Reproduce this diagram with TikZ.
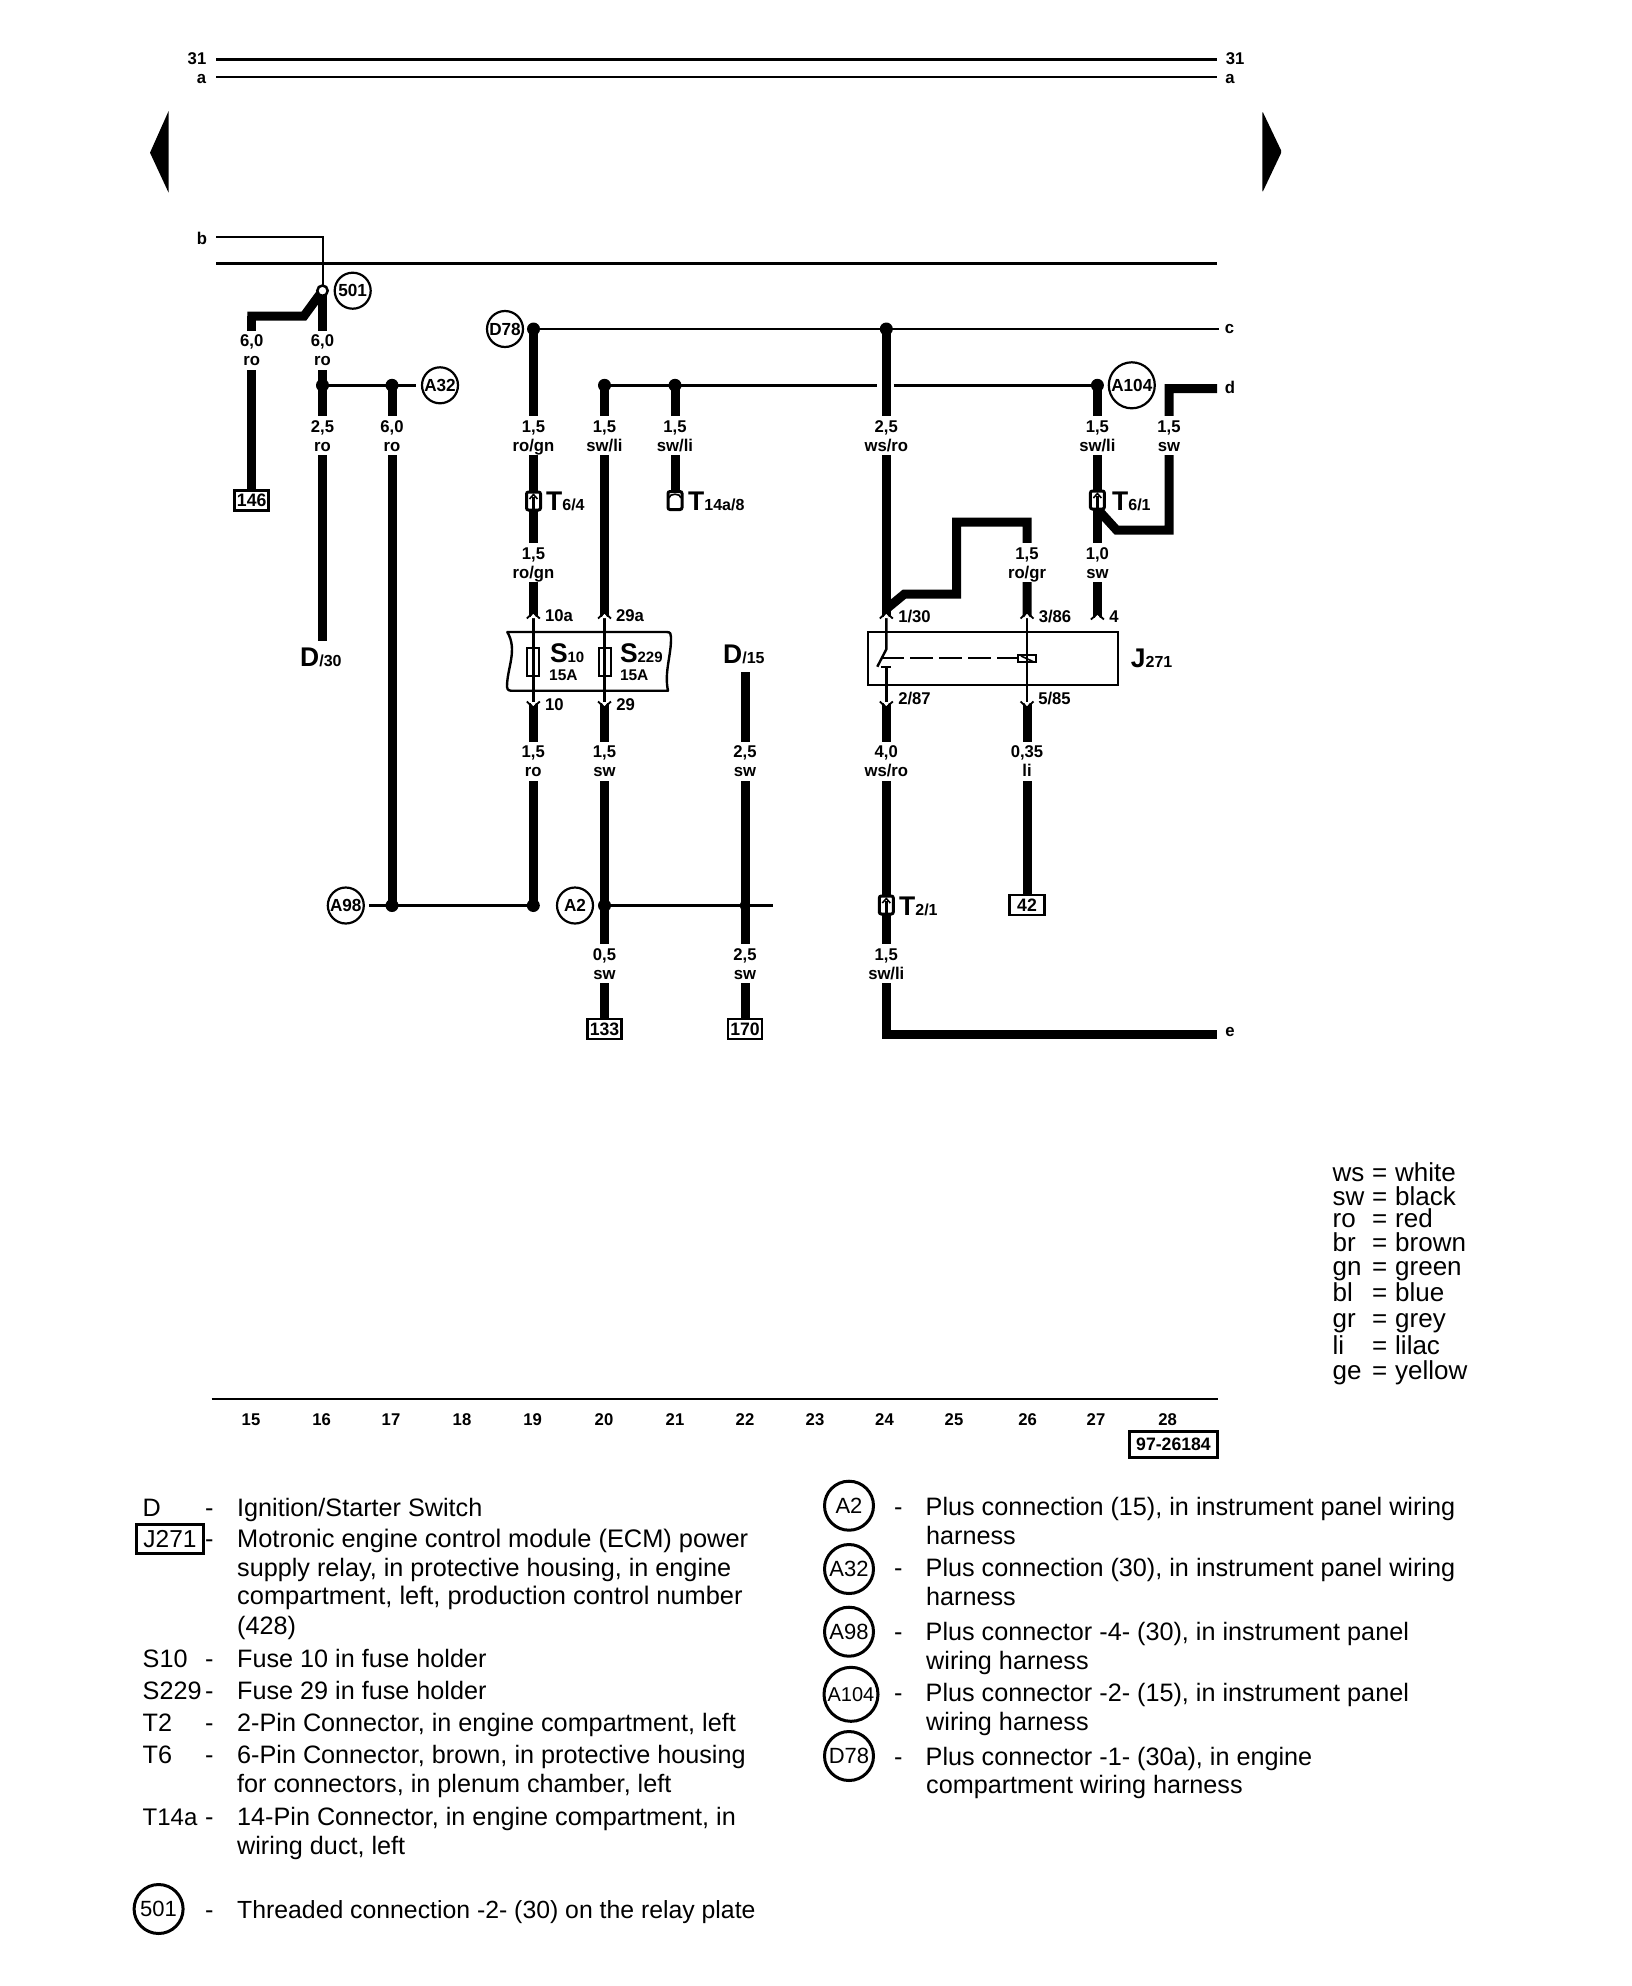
\documentclass[tikz,border=0pt]{standalone}
\usepackage{fontspec}
\setmainfont{Liberation Sans}
\newfontfamily\labf[FakeStretch=0.98]{Liberation Sans}
\newcommand{\fsz}[1]{\fontsize{#1}{#1}\selectfont}
\tikzset{
  wire/.style={line width=9pt,line cap=butt,line join=miter,miter limit=10},
  thin wire/.style={line width=2.7pt,line cap=butt},
  fine/.style={line width=2pt,line cap=butt},
  cover/.style={fill=white,draw=none,inner sep=0pt,minimum width=14pt,minimum height=39.3pt},
  lab/.style={inner sep=0pt,font=\labf\bfseries\fsz{17},anchor=base},
  pinlab/.style={inner sep=0pt,font=\labf\bfseries\fsz{17}},
  dot/.style={circle,fill=black,draw=none,minimum size=13pt,inner sep=0pt},
  circ/.style={circle,draw,line width=2.2pt,fill=white,minimum size=36pt,inner sep=0pt,font=\labf\bfseries\fsz{17.5}},
  lcirc/.style={circle,draw,line width=3pt,fill=white,minimum size=49pt,inner sep=0pt,font=\fsz{22}},
  term/.style={draw,line width=2.5pt,fill=white,inner sep=0pt,minimum width=34pt,minimum height=20pt,font=\labf\bfseries\fsz{18}},
  connbox/.style={draw,line width=3pt,fill=white,rounded corners=2pt,minimum width=14pt,minimum height=18pt,inner sep=0pt},
  sym/.style={inner sep=0pt,anchor=base west,font=\labf\bfseries\fsz{27}},
  leg/.style={inner sep=0pt,anchor=base west,font=\fsz{25.2}},
  col/.style={inner sep=0pt,anchor=base west,font=\fsz{26}},
  tick/.style={inner sep=0pt,font=\labf\bfseries\fsz{17}},
}
\newcommand{\wlab}[5]{%
  \node[cover] (#1) at (#2,#3) {};
  \node[lab] (#1a) at (#2,#3-3.4) {#4};
  \node[lab] (#1b) at (#2,#3+15.6) {#5};}
\newcommand{\pinU}[2]{%
  \fill[white] (#1-3.2,#2+1) -- (#1,#2-4) -- (#1+3.2,#2+1) -- cycle;
  \draw[line width=1.8pt,line join=miter] (#1-6.5,#2+1.5) -- (#1,#2-4.5) -- (#1+6.5,#2+1.5);}
\newcommand{\pinD}[2]{%
  \fill[white] (#1-3.2,#2-1) -- (#1,#2+4) -- (#1+3.2,#2-1) -- cycle;
  \draw[line width=1.8pt,line join=miter] (#1-6.5,#2-1.5) -- (#1,#2+4.5) -- (#1+6.5,#2-1.5);}
\newcommand{\conn}[3]{%
  \node[connbox] (#1) at (#2,#3) {};
  \draw[line width=2.4pt] (#2,#3+8) -- (#2,#3-4);
  \draw[line width=1.6pt] (#2-4,#3-2) -- (#2,#3-6.5) -- (#2+4,#3-2);}
\newcommand{\lgd}[4]{\node[leg] (#1) at (#2,#3) {#4};}
\begin{document}
\begin{tikzpicture}[x=1pt,y=-1pt]
\useasboundingbox (0,0) rectangle (1632,1986);
\fill[white] (0,0) rectangle (1632,1986);

% ---- buses
\coordinate (b31l) at (216,59.3); \coordinate (b31r) at (1217,59.3);
\coordinate (bal) at (216,77); \coordinate (bar) at (1217,77);
\coordinate (bbl) at (216,263.3); \coordinate (bbr) at (1217,263.3);
\draw[line width=3pt] (b31l) -- (b31r);
\draw[fine] (bal) -- (bar);
\draw[line width=3pt] (bbl) -- (bbr);
\node[tick] (t31l) at (197,59) {31};
\node[tick] (tal) at (201.6,79) {a};
\node[tick] (t31r) at (1235,59) {31};
\node[tick] (tar) at (1230,79) {a};
\node[tick] (tb) at (202,238) {b};
\node[tick] (tc) at (1229.5,329) {c};
\node[tick] (td) at (1230,387) {d};
\node[tick] (te) at (1230,1032) {e};
% page arrows
\fill (168.6,111) -- (150,152.7) -- (168.6,192.7) -- cycle;
\fill[rounded corners=1.5pt] (1262.3,111) -- (1281.7,151.7) -- (1262.3,192.7) -- cycle;

% ---- named points
\coordinate (n501) at (322.5,290.7);
\node[circ] (c501) at (352.7,290.7) {501};
\coordinate (bbend) at (322.5,237.3);
\coordinate (bstart) at (216,237.3);
\coordinate (j322) at (322.5,385.3);
\coordinate (j392) at (392,385.3);
\node[circ] (A32) at (440,385.3) {A32};
\coordinate (j533t) at (533.5,329);
\node[circ] (D78) at (505,329) {D78};
\coordinate (j886t) at (886.3,329);
\coordinate (cend) at (1219,329);
\coordinate (j604t) at (604.5,385.3);
\coordinate (j675t) at (675,385.3);
\coordinate (j1097) at (1097.4,385.3);
\node[circ,minimum size=46pt] (A104) at (1131.8,385.3) {A104};
\coordinate (j392b) at (392,905.5);
\coordinate (j533b) at (533.3,905.5);
\node[circ] (A98) at (345.8,905.5) {A98};
\node[circ] (A2) at (575,905.5) {A2};
\coordinate (j604b) at (604.5,905.5);
\coordinate (j745b) at (745,905.5);
\coordinate (a2end) at (772.5,905.5);
\coordinate (gapl) at (876.6,385.3);
\coordinate (gapr) at (893.8,385.3);
\node[term] (b146) at (251.7,500.3) {146};
\node[term] (b133) at (604.5,1029) {133};
\node[term] (b170) at (745,1029) {170};
\node[term,minimum width=35pt] (b42) at (1027,905) {42};
\coordinate (d30e) at (322.5,640.7);
\coordinate (d15e) at (745,672);

% ---- thin connectors
\draw[fine,line join=miter] (bstart) -- (bbend) -- (n501);
\draw[thin wire,shorten >=5pt] (j322) -- (A32);
\draw[thin wire] (j533t) -- (cend);
\draw[thin wire] (j604t) -- (gapl);
\draw[thin wire] (gapr) -- (j1097);
\draw[thin wire,shorten <=4pt] (A98) -- (j533b);
\draw[thin wire] (j604b) -- (a2end);

% ---- fuse holder and relay
\draw[line width=2.4pt,line join=round] (507.3,632) -- (666.7,632) .. controls (670.5,632) and (671,634) .. (671,637)
  .. controls (671.5,655) and (664,672) .. (668,690.7) -- (511,690.7)
  .. controls (507.5,690.7) and (507,688) .. (507,686.7)
  .. controls (507,668) and (518,650) .. (507.3,632) -- cycle;
\node[draw,line width=2pt,minimum width=12pt,minimum height=28pt,inner sep=0pt] (fS10) at (533.3,661.8) {};
\node[draw,line width=2pt,minimum width=12pt,minimum height=28pt,inner sep=0pt] (fS229) at (604.5,661.8) {};
\node[draw,line width=2pt,minimum width=250.6pt,minimum height=53.3pt,inner sep=0pt] (J271box) at (993.1,658.3) {};
\draw[line width=2.4pt] (533.3,613) -- (533.3,707);
\draw[line width=2.4pt] (604.5,613) -- (604.5,707);
\draw[line width=2.4pt] (886.3,613) -- (886.3,649.3) -- (877.3,666.7);
\draw[line width=2pt] (881,666.7) -- (891,666.7);
\draw[line width=2.4pt] (886.3,666.7) -- (886.3,703);
\draw[line width=2.4pt] (1027,613) -- (1027,703);
\draw[line width=1.8pt,dash pattern=on 23pt off 6pt] (881,658) -- (1018,658);
\node[draw,line width=2pt,minimum width=18pt,minimum height=7.5pt,inner sep=0pt] (coil) at (1027,658.7) {};
\draw[line width=1.6pt] (1021,656) -- (1033,661.5);
\draw[line width=2.4pt] (1027,640) -- (1027,680);

% ---- heavy wires
\draw[wire] (n501) -- (304,316) -- (247.3,316);
\draw[wire] (251.7,316) -- (b146);
\draw[wire] (n501) -- (d30e);
\draw[wire] (j392) -- (j392b);
\draw[wire] (j533t) -- (533.5,617);
\draw[wire] (533.3,703) -- (j533b);
\draw[wire] (j604t) -- (604.5,617);
\draw[wire] (604.5,703) -- (b133);
\draw[wire] (j675t) -- (675,495);
\draw[wire] (j886t) -- (886.3,617);
\draw[wire] (886.3,609) -- (904.5,594) -- (956.6,594) -- (956.6,522) -- (1027,522) -- (1027,617);
\draw[wire] (886.3,703) -- (886.3,1034) -- (1216.7,1034);
\draw[wire] (1027,703) -- (b42);
\draw[wire] (d15e) -- (b170);
\draw[wire] (j1097) -- (1097.4,618);
\draw[wire] (1097.4,509) -- (1116.5,530) -- (1169,530) -- (1169,388.7) -- (1217,388.7);

% ---- junction dots over wires
\foreach \p in {j322,j392,j533t,j886t,j604t,j675t,j1097,j392b,j533b,j604b}
  \fill (\p) circle (6.5);
\fill (j745b) circle (5.5);
\draw[line width=2.5pt,fill=white] (n501) circle (5.2);

% ---- pin marks
\pinU{533.3}{617} \pinU{604.5}{617} \pinU{886.3}{617} \pinU{1027}{617} \pinU{1097.4}{618}
\pinD{533.3}{703} \pinD{604.5}{703} \pinD{886.3}{703} \pinD{1027}{703}

% ---- wire labels
\wlab{l1}{251.7}{350.3}{6,0}{ro}
\wlab{l2}{322.5}{350.3}{6,0}{ro}
\wlab{l3}{322.5}{435.6}{2,5}{ro}
\wlab{l4}{392}{435.6}{6,0}{ro}
\wlab{l5}{533.5}{435.6}{1,5}{ro/gn}
\wlab{l6}{604.5}{435.6}{1,5}{sw/li}
\wlab{l7}{675}{435.6}{1,5}{sw/li}
\wlab{l8}{886.3}{435.6}{2,5}{ws/ro}
\wlab{l9}{1097.4}{435.6}{1,5}{sw/li}
\wlab{l10}{1169}{435.6}{1,5}{sw}
\wlab{l11}{533.5}{562.6}{1,5}{ro/gn}
\wlab{l12}{1027}{562.6}{1,5}{ro/gr}
\wlab{l13}{1097.4}{562.6}{1,0}{sw}
\wlab{l14}{533.3}{761.3}{1,5}{ro}
\wlab{l15}{604.5}{761.3}{1,5}{sw}
\wlab{l16}{745}{761.3}{2,5}{sw}
\wlab{l17}{886.3}{761.3}{4,0}{ws/ro}
\wlab{l18}{1027}{761.3}{0,35}{li}
\wlab{l19}{604.5}{963.7}{0,5}{sw}
\wlab{l20}{745}{963.7}{2,5}{sw}
\wlab{l21}{886.3}{963.7}{1,5}{sw/li}

% ---- connectors
\conn{cT64}{533.5}{501}
\conn{cT61}{1097.4}{500}
\conn{cT21}{886.3}{905}
\node[connbox] (cT14) at (675,500.5) {};
\draw[line width=1.6pt] (669,498) .. controls (669,493) and (681,493) .. (681,498);
\node[sym] (tT64) at (546,510.7) {T\fsz{16}\normalfont\bfseries 6/4};
\node[sym] (tT14) at (688,510.7) {T\fsz{16}\normalfont\bfseries 14a/8};
\node[sym] (tT61) at (1112,510) {T\fsz{16}\normalfont\bfseries 6/1};
\node[sym] (tT21) at (899,915) {T\fsz{16}\normalfont\bfseries 2/1};
\node[sym] (tD30) at (300,666) {D\fsz{16}\normalfont\bfseries /30};
\node[sym] (tD15) at (723,663.3) {D\fsz{16}\normalfont\bfseries /15};
\node[sym] (tS10) at (549.8,662.3) {S\fsz{15}\normalfont\bfseries 10};
\node[sym] (tS229) at (619.8,662.3) {S\fsz{15}\normalfont\bfseries 229};
\node[sym,font=\bfseries\fsz{15.5}] (tA1) at (549,680.7) {15A};
\node[sym,font=\bfseries\fsz{15.5}] (tA2) at (619.8,680.7) {15A};
\node[sym] (tJ) at (1130.7,667.3) {J\fsz{16}\normalfont\bfseries 271};

% ---- pin numbers
\node[pinlab] (p10a) at (559,616) {10a};
\node[pinlab] (p29a) at (630,616) {29a};
\node[pinlab] (p10) at (554.4,704.7) {10};
\node[pinlab] (p29) at (625.6,704.7) {29};
\node[pinlab] (p130) at (914.5,617) {1/30};
\node[pinlab] (p386) at (1055,617) {3/86};
\node[pinlab] (p4) at (1114,617) {4};
\node[pinlab] (p287) at (914.5,698.3) {2/87};
\node[pinlab] (p585) at (1054.5,698.3) {5/85};

% ---- track ruler
\coordinate (rl) at (211.7,1399); \coordinate (rr) at (1217.6,1399);
\draw[line width=2.5pt] (rl) -- (rr);
\foreach \n/\x in {15/251,16/321.7,17/391,18/462,19/532.7,20/604,21/675,22/745,23/815,24/884.5,25/954,26/1027.7,27/1096,28/1167.7}
  \node[tick] (tk\n) at (\x,1419.5) {\n};
\node[draw,line width=3pt,inner sep=0pt,minimum width=88pt,minimum height=26pt,font=\labf\bfseries\fsz{18}] (docno) at (1173.5,1444.5) {97-26184};

% ---- colour key
\foreach \k/\y/\a in {ws/1181.5/white,sw/1205/black,ro/1227.7/red,br/1251.7/brown,gn/1275.5/green,bl/1301.5/blue,gr/1327.5/grey,li/1354.5/lilac,ge/1379/yellow}{
  \node[col] (ck\k) at (1332.5,\y) {\k};
  \node[col] (ce\k) at (1372,\y) {=};
  \node[col] (cv\k) at (1395,\y) {\a};
}

% ---- left legend
\lgd{k1}{142.5}{1516}{D}
\lgd{k1d}{205}{1516}{-}
\lgd{k1t}{237}{1516}{Ignition/Starter Switch}
\node[draw,line width=2.5pt,inner sep=0pt,minimum width=67pt,minimum height=29pt,font=\fsz{24.5}] (k2) at (170,1539) {J271};
\lgd{k2d}{205}{1547}{-}
\node[leg,font=\fsz{25.4}] (k2t) at (237,1547) {Motronic engine control module (ECM) power};
\lgd{k2u}{237}{1576}{supply relay, in protective housing, in engine}
\node[leg,font=\fsz{25.4}] (k2v) at (237,1604) {compartment, left, production control number};
\lgd{k2w}{237}{1634}{(428)}
\lgd{k3}{142.5}{1667}{S10}
\lgd{k3d}{205}{1667}{-}
\lgd{k3t}{237}{1667}{Fuse 10 in fuse holder}
\lgd{k4}{142.5}{1699}{S229}
\lgd{k4d}{205}{1699}{-}
\lgd{k4t}{237}{1699}{Fuse 29 in fuse holder}
\lgd{k5}{142.5}{1731.7}{T2}
\lgd{k5d}{205}{1731.7}{-}
\lgd{k5t}{237}{1731.7}{2-Pin Connector, in engine compartment, left}
\lgd{k6}{142.5}{1763}{T6}
\lgd{k6d}{205}{1763}{-}
\lgd{k6t}{237}{1763}{6-Pin Connector, brown, in protective housing}
\lgd{k6u}{237}{1792}{for connectors, in plenum chamber, left}
\node[leg,font=\fsz{24}] (k7) at (142.5,1825) {T14a};
\lgd{k7d}{205}{1825}{-}
\lgd{k7t}{237}{1825}{14-Pin Connector, in engine compartment, in}
\lgd{k7u}{237}{1854}{wiring duct, left}
\node[lcirc] (k8) at (158.6,1909) {501};
\lgd{k8d}{205}{1918}{-}
\node[leg,font=\fsz{24.8}] (k8t) at (237,1918) {Threaded connection -2- (30) on the relay plate};

% ---- right legend
\node[lcirc] (r1) at (849,1505.7) {A2};
\lgd{r1d}{894}{1515}{-}
\lgd{r1t}{925.5}{1515}{Plus connection (15), in instrument panel wiring}
\lgd{r1u}{926}{1544}{harness}
\node[lcirc] (r2) at (849,1569) {A32};
\lgd{r2d}{894}{1576}{-}
\lgd{r2t}{925.5}{1576}{Plus connection (30), in instrument panel wiring}
\lgd{r2u}{926}{1605}{harness}
\node[lcirc] (r3) at (849,1631.7) {A98};
\lgd{r3d}{894}{1640}{-}
\lgd{r3t}{925.5}{1640}{Plus connector -4- (30), in instrument panel}
\lgd{r3u}{926}{1669}{wiring harness}
\node[lcirc,minimum size=54pt,font=\fsz{20}] (r4) at (851,1694.3) {A104};
\lgd{r4d}{894}{1701.7}{-}
\lgd{r4t}{925.5}{1701.7}{Plus connector -2- (15), in instrument panel}
\lgd{r4u}{926}{1730.7}{wiring harness}
\node[lcirc] (r5) at (849,1756) {D78};
\lgd{r5d}{894}{1765}{-}
\lgd{r5t}{925.5}{1765}{Plus connector -1- (30a), in engine}
\lgd{r5u}{926}{1793.3}{compartment wiring harness}
\end{tikzpicture}
\end{document}
